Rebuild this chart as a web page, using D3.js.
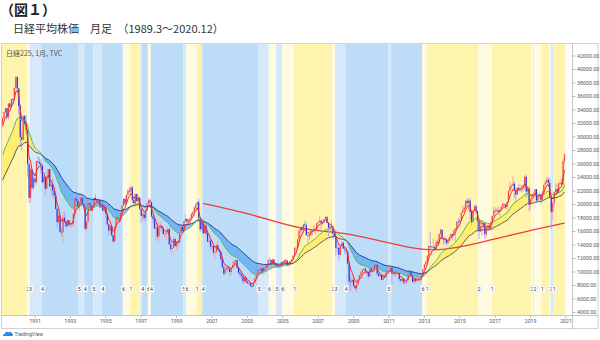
<!DOCTYPE html>
<html><head><meta charset="utf-8">
<script src="https://cdn.jsdelivr.net/npm/d3@7"></script>
<style>body{margin:0;background:#fff;}svg{display:block;}</style>
</head><body>
<svg id="c" width="600" height="340"></svg>
<script>
// ---- data (monthly, Mar 1989 .. Dec 2020) ----
const startYear = 1989, startMonth = 3;
const firstOpen = 31986;
const closes = [
/*1989*/ 32839,33714,34267,32949,34954,34431,35637,35549,37269,38916,
/*1990*/ 37189,34592,29980,29585,33131,31940,31036,25978,20984,25194,22454,23849,
/*1991*/ 23293,26409,26292,26111,25790,23291,24121,22336,23916,25222,22688,22984,
/*1992*/ 22023,21339,19346,17391,18348,15952,15910,18061,17399,16767,17684,16925,
/*1993*/ 17024,17098,18591,20919,20552,19590,20380,21027,20106,19703,16408,17417,
/*1994*/ 20229,19997,19112,19725,20974,20644,20449,20629,19564,19990,19076,19723,
/*1995*/ 18650,17053,16140,16807,15437,14517,16678,18117,17913,17655,18744,19868,
/*1996*/ 20813,20125,21407,22041,21956,22531,20693,20167,21556,20467,21020,19361,
/*1997*/ 18330,18557,18003,19151,20069,20605,20331,18229,17888,16459,16636,15259,
/*1998*/ 16628,16831,16527,15641,15671,15831,16379,14108,13406,13565,14884,13842,
/*1999*/ 14499,14368,15837,16702,16112,17530,17862,17437,17605,17942,18558,18934,
/*2000*/ 19540,19960,20337,17974,16332,17411,15727,16861,15747,14539,14649,13786,
/*2001*/ 13843,12884,12999,13934,13262,12969,11861,10713,9775,10367,10697,10543,
/*2002*/ 9998,10588,11025,11493,11764,10622,9877,9619,9383,8640,9216,8579,
/*2003*/ 8340,8363,7973,7831,8425,9083,9563,10344,10219,10560,10101,10677,
/*2004*/ 10784,11042,11715,11762,11236,11859,11326,11082,10824,10771,10899,11489,
/*2005*/ 11388,11741,11669,11009,11277,11584,11900,12414,13574,13607,14872,16111,
/*2006*/ 16650,16206,17060,16906,15467,15505,15457,16141,16128,16399,16274,17226,
/*2007*/ 17383,17604,17288,17400,17876,18138,17249,16569,16786,16738,15681,15308,
/*2008*/ 13592,13604,12526,13850,14339,13481,13377,13073,11260,8577,8512,8860,
/*2009*/ 7994,7568,8110,8828,9523,9958,10357,10493,10133,10035,9345,10546,
/*2010*/ 10198,10126,11090,11057,9769,9383,9537,8824,9369,9202,9937,10229,
/*2011*/ 10237,10624,9755,9850,9694,9816,9833,8955,8700,8988,8435,8455,
/*2012*/ 8803,9723,10083,9521,8543,9007,8695,8840,8870,8928,9446,10395,
/*2013*/ 11139,11559,12398,13861,13775,13677,13668,13389,14456,14328,15662,16291,
/*2014*/ 14915,14841,14828,14304,14632,15162,15621,15425,16174,16414,17460,17451,
/*2015*/ 17674,18798,19207,19520,20563,20236,20585,18890,17388,19083,19747,19034,
/*2016*/ 17518,16027,16759,16666,17235,15576,16569,16887,16450,17425,18308,19114,
/*2017*/ 19041,19119,18909,19197,19651,20033,19925,19646,20356,22012,22725,22765,
/*2018*/ 23098,22068,21454,22468,22202,22305,22554,22865,24120,21920,22351,20015,
/*2019*/ 20773,21385,21206,22259,20601,21276,21522,20704,21756,22927,23294,23657,
/*2020*/ 23205,21143,18917,20194,21878,22288,21710,23140,23185,22977,26434,27444
];
const highs = [
/*1989*/ 32900,33800,34300,34300,35000,35100,35650,35700,37300,38957,
/*1990*/ 38713,37300,34900,30800,33200,33200,33300,30900,26500,25500,25200,24600,
/*1991*/ 24100,26500,27146,27000,26700,25800,24200,24100,24300,25300,25300,23300,
/*1992*/ 23800,22100,21300,19500,18800,18400,16400,18900,18800,17700,17800,17700,
/*1993*/ 17500,17500,18800,20950,21100,20800,20600,21281,21100,20500,19800,17600,
/*1994*/ 20400,20600,20400,19900,21000,21573,20900,20800,20700,20100,20000,19800,
/*1995*/ 19800,18700,17100,17000,16900,15500,16700,18200,18200,18100,18800,19900,
/*1996*/ 20900,21100,21500,22300,22600,22750,22700,21200,21600,21600,21400,21100,
/*1997*/ 19500,18800,18900,19400,20400,20900,20900,20400,18700,18300,17400,17300,
/*1998*/ 17300,17300,17000,16600,15900,16000,16800,16400,14400,14100,15100,15100,
/*1999*/ 14600,14500,16400,16800,16900,17600,18600,17900,17900,18000,18800,18950,
/*2000*/ 19700,20200,20500,20834,18000,17600,17900,16900,16800,15800,14900,14900,
/*2001*/ 14200,13900,13100,14200,14529,13500,13000,12000,11000,10800,11100,10900,
/*2002*/ 10900,10600,11700,11600,12000,11800,10700,10300,9700,9400,9300,9300,
/*2003*/ 8800,8800,8600,8100,8500,9200,9800,10400,11000,11161,10500,10700,
/*2004*/ 11000,11100,11800,12195,11900,12000,11900,11200,11300,11100,11200,11500,
/*2005*/ 11600,11800,12000,11800,11300,11600,11900,12500,13600,13800,14900,16400,
/*2006*/ 16700,16800,17100,17563,17300,15600,15600,16200,16400,16900,16600,17300,
/*2007*/ 17600,18300,17700,17700,17900,18297,18300,17400,16900,17500,16600,16000,
/*2008*/ 15200,14000,13600,13900,14600,14500,13700,13300,12800,11400,9500,8900,
/*2009*/ 9400,8000,8900,9200,9600,10200,10400,10700,10600,10300,10000,10600,
/*2010*/ 10982,10300,11100,11408,11100,10300,9700,9600,9700,9600,10100,10300,
/*2011*/ 10600,10900,10700,9900,10000,9900,10100,9900,9000,9100,9000,8700,
/*2012*/ 8900,9800,10300,10000,9500,9100,9100,9200,9200,9100,9500,10500,
/*2013*/ 11200,11600,12600,13900,15943,13700,14900,14000,14800,14800,15700,16320,
/*2014*/ 16100,14900,15300,15000,14700,15400,15700,15600,16400,16500,17500,18030,
/*2015*/ 17900,18800,19800,20000,20600,20953,20800,20900,18800,19100,20000,20000,
/*2016*/ 18900,17900,17300,17600,17300,16900,16900,17000,17100,17500,18300,19593,
/*2017*/ 19600,19500,19700,19300,19800,20300,20200,20100,20500,22100,23382,23000,
/*2018*/ 24129,23500,22500,22500,23000,22900,22900,23000,24300,24448,22700,22700,
/*2019*/ 20900,21600,21800,22300,22300,21500,21800,21500,22100,22900,23600,24066,
/*2020*/ 24115,23900,21400,20400,21900,23200,23000,23300,23600,23800,26800,27600
];
const lows = [
/*1989*/ 31500,32600,33500,32600,32500,34000,34300,34900,35300,37000,
/*1990*/ 36700,33300,28500,28000,29600,31600,30200,24100,20221,20300,22200,22200,
/*1991*/ 22800,23100,25300,25800,24600,23200,22900,21500,22300,23500,22500,21300,
/*1992*/ 21000,20700,19100,16600,17100,15750,15200,14309,17200,16400,16700,16800,
/*1993*/ 16500,16600,16900,18500,20000,19500,19100,20300,20000,19300,16078,16200,
/*1994*/ 17400,19700,19000,19000,19700,20400,20200,20300,19500,19400,19000,18900,
/*1995*/ 17800,16800,15380,15700,15300,14295,14700,16500,17300,17300,17400,18700,
/*1996*/ 19700,19900,19900,21000,21600,21600,20200,20000,20000,20400,20300,19100,
/*1997*/ 17300,17700,17600,17400,19100,19900,19500,18100,17300,16300,14800,14800,
/*1998*/ 14500,16100,16000,15500,15000,14800,15700,14000,13100,12787,13600,13800,
/*1999*/ 13300,13700,14200,15800,15900,16000,17300,17000,16800,17100,17900,18200,
/*2000*/ 18200,19100,19100,17400,15900,16200,15600,15700,15400,14300,14200,13400,
/*2001*/ 13200,12600,11819,12800,13100,12500,11600,10600,9382,9700,10100,10000,
/*2002*/ 9400,9420,10500,10900,11200,10500,9700,9100,9000,8200,8300,8300,
/*2003*/ 8300,8200,7800,7603,7900,8400,9200,9500,10100,10400,9600,9800,
/*2004*/ 10400,10400,10900,11600,10500,11000,10800,10700,10800,10600,10700,10800,
/*2005*/ 11200,11300,11500,10800,10800,11100,11500,11800,12400,13000,13600,14900,
/*2006*/ 15100,15700,15800,16600,15300,14045,14700,15300,15400,16000,15600,16200,
/*2007*/ 16800,17300,16300,17000,17200,17700,17200,15273,15800,16300,14800,15100,
/*2008*/ 12500,12900,11700,12500,13700,13400,12600,12600,11000,6995,7200,7800,
/*2009*/ 7800,7300,7021,8000,8500,9400,9000,10200,9900,9700,9000,9500,
/*2010*/ 10100,9800,10100,10900,9500,9300,9100,8800,8900,9100,9200,9900,
/*2011*/ 10100,10200,8227,9400,9400,9300,9700,8600,8400,8500,8100,8200,
/*2012*/ 8300,8800,9600,9400,8500,8200,8400,8500,8600,8500,8600,9400,
/*2013*/ 10400,10900,11500,12000,13500,12400,13700,13200,13500,13800,14000,15300,
/*2014*/ 14800,14000,14200,13900,13900,14600,15100,14700,15500,14529,16400,16700,
/*2015*/ 16600,17600,18700,19000,19300,19900,19100,17700,16901,17600,19100,18700,
/*2016*/ 16000,14865,15900,15400,16200,14864,15200,16000,16100,16300,16100,18100,
/*2017*/ 18600,18800,18900,18200,19200,19700,19800,19300,19200,20400,21900,22200,
/*2018*/ 22800,20950,20347,21500,22000,21900,21800,21900,22200,20971,21300,18949,
/*2019*/ 19241,20300,20900,21500,20300,20300,21000,20100,20600,21300,22900,23000,
/*2020*/ 22800,21000,16358,17600,19600,21500,21700,21700,22900,22900,22900,26000
];
// moving-average settings and starting values
const shortPeriod = 5, midPeriod = 20, longPeriod = 40;
const shortSeed = 31600, midSeed = 27300, longSeed = 23600;
// long red line (decimal year, value)
const longLineYears  = [2000.5,2001,2002,2003,2004,2005,2006,2007,2008,2009,2010,2011,2012,2013,2014,2015,2016,2017,2018,2019,2020,2020.92];
const longLineValues = [20150,19900,19300,18650,17900,17150,16500,16100,15900,15500,14900,14300,13700,13300,13300,13700,14250,14900,15550,16150,16750,17250];
// stage bands
const stageDates  = ["1989-03","1990-08","1990-10","1991-06","1993-07","1993-11","1994-05","1994-11","1996-01","1996-06","1997-01","1997-02","1997-06","1997-08","1999-06","1999-08","2000-03","2000-06","2000-07","2003-09","2004-04","2004-09","2005-01","2005-09","2007-11","2008-01","2008-08","2011-01","2011-03","2012-12","2013-03","2016-02","2016-11","2019-02","2019-03","2019-04","2019-09","2020-02","2020-03","2020-05"];
const stageValues = [1,2,3,4,5,4,5,4,6,1,3,4,6,4,5,6,1,3,4,5,6,5,6,1,2,3,4,5,4,6,1,2,1,2,1,2,1,2,3,1];
const stageLabels = ["","2","3","4","5","4","5","4","6","1","3","4","6","4","5","6","1","3","4","5","6","5","6","1","2","3","4","5","","6","1","2","1","2","","2","1","2","3","1"];
const priceTicks = [4000,6000,8000,10000,12000,14000,16000,18000,20000,22000,24000,26000,28000,30000,32000,34000,36000,38000,40000,42000];
const yearTicks = [1991,1993,1995,1997,1999,2001,2003,2005,2007,2009,2011,2013,2015,2017,2019,2021];

// ---- drawing ----
const svg = d3.select("#c");
const L = 2, T = 44, R = 572, B = 315;
const x = d3.scaleLinear().domain([1991, 2021]).range([35, 566]);
const y = d3.scaleLinear().domain([4000, 42000]).range([312.5, 56]);
const n = closes.length;
const tOf = i => startYear + (startMonth - 1 + i) / 12;
const half = (x(1992) - x(1991)) / 24;
const stageColor = {1:"#fff4ad",2:"#fffbe0",3:"#d5e9fb",4:"#bddcf8",5:"#d5e9fb",6:"#fffbe0"};
const parseT = s => { const [a,b] = s.split("-").map(Number); return a + (b-1)/12; };

svg.append("defs").append("clipPath").attr("id","pc")
  .append("rect").attr("x",L).attr("y",T).attr("width",R-L).attr("height",B-T);

// titles
svg.append("text").attr("x",0).attr("y",14.5).attr("font-family","Noto Sans CJK JP")
  .attr("font-weight","bold").attr("font-size",14).attr("fill","#222").text("（図１）");
svg.append("text").attr("x",13).attr("y",32.5).attr("font-family","Noto Sans CJK JP")
  .attr("font-size",11).attr("fill","#333").text("日経平均株価　月足　（1989.3～2020.12）");

const g = svg.append("g").attr("clip-path","url(#pc)");

// bands
const lastT = tOf(n-1);
stageDates.forEach((d,i) => {
  const t0 = parseT(d), t1 = i < stageDates.length-1 ? parseT(stageDates[i+1]) : lastT + 1/12;
  g.append("rect").attr("x", x(t0)-half).attr("y",T).attr("width", x(t1)-x(t0)).attr("height",B-T)
   .attr("fill", stageColor[stageValues[i]]);
});

// EMAs
function ema(vals, p, seed){ const a = 2/(p+1); const o=[seed]; for(let i=1;i<vals.length;i++) o.push(a*vals[i]+(1-a)*o[i-1]); return o; }
const eS = ema(closes, shortPeriod, shortSeed), eM = ema(closes, midPeriod, midSeed), eL = ema(closes, longPeriod, longSeed);
const idx = d3.range(n);

// cloud
g.append("path").attr("fill","rgba(255,233,60,0.55)")
  .attr("d", d3.area().x(i=>x(tOf(i))).y0(i=>y(eL[i])).y1(i=>y(Math.max(eM[i],eL[i])))(idx));
g.append("path").attr("fill","rgba(40,145,235,0.5)")
  .attr("d", d3.area().x(i=>x(tOf(i))).y0(i=>y(eM[i])).y1(i=>y(Math.max(eM[i],eL[i])))(idx));

// long red line
g.append("path").attr("fill","none").attr("stroke","#ee3b3b").attr("stroke-width",1.3)
  .attr("d", d3.line().x(i=>x(longLineYears[i])).y(i=>y(longLineValues[i])).curve(d3.curveBasis)(d3.range(longLineYears.length)));

// candles
idx.forEach(i => {
  const o = i === 0 ? firstOpen : closes[i-1], c = closes[i];
  const up = c >= o, cx = x(tOf(i));
  g.append("line").attr("x1",cx).attr("x2",cx).attr("y1",y(highs[i])).attr("y2",y(lows[i]))
    .attr("stroke", up ? "#f2a0a6" : "#a8a4ee").attr("stroke-width",0.9);
  const yt = y(Math.max(o,c)), yb = y(Math.min(o,c));
  g.append("rect").attr("x",cx-0.6).attr("width",1.2).attr("y",yt).attr("height",Math.max(0.8,yb-yt))
    .attr("fill", up ? "#f04848" : "#2e30e0");
});

// mid EMA
g.append("path").attr("fill","none").attr("stroke","#5cb85c").attr("stroke-width",1)
  .attr("d", d3.line().x(i=>x(tOf(i))).y(i=>y(eM[i]))(idx));
// long EMA coloured by state
let runStart = 0;
for (let i=1;i<=n;i++){
  const st = eM[runStart] >= eL[runStart];
  if (i===n || (eM[i] >= eL[i]) !== st){
    const seg = d3.range(runStart, Math.min(i+1, n));
    g.append("path").attr("fill","none").attr("stroke", st ? "#555a60" : "#23409a").attr("stroke-width",1)
      .attr("d", d3.line().x(j=>x(tOf(j))).y(j=>y(eL[j]))(seg));
    runStart = i;
  }
}
// short EMA
g.append("path").attr("fill","none").attr("stroke","#f22a2a").attr("stroke-width",1)
  .attr("d", d3.line().x(i=>x(tOf(i))).y(i=>y(eS[i]))(idx));

// stage labels
stageDates.forEach((d,i) => {
  if (!stageLabels[i]) return;
  const cx = x(parseT(d));
  g.append("rect").attr("x",cx-2.6).attr("y",285.5).attr("width",5.2).attr("height",7).attr("rx",1)
    .attr("fill","#fff").attr("stroke","#d0d0d0").attr("stroke-width",0.3);
  g.append("text").attr("x",cx).attr("y",290.8).attr("text-anchor","middle").attr("font-family","Roboto")
    .attr("font-size",5.2).attr("fill","#333").text(stageLabels[i]);
});

// chart header label
svg.append("text").attr("x",6).attr("y",56).attr("font-family","Noto Sans CJK JP").attr("font-size",7)
  .attr("fill","#555").text("日経225, 1月, TVC");

// frame and axes
svg.append("rect").attr("x",1.5).attr("y",T-0.5).attr("width",596.5).attr("height",285).attr("fill","none")
  .attr("stroke","#c8c8c8").attr("stroke-width",0.8);
svg.append("line").attr("x1",1.5).attr("x2",598).attr("y1",B+0.5).attr("y2",B+0.5).attr("stroke","#b8b8b8").attr("stroke-width",0.8);
svg.append("line").attr("x1",R+0.5).attr("x2",R+0.5).attr("y1",T-0.5).attr("y2",328.5).attr("stroke","#b8b8b8").attr("stroke-width",0.8);

priceTicks.forEach(v => {
  svg.append("line").attr("x1",R+1).attr("x2",R+3.5).attr("y1",y(v)).attr("y2",y(v)).attr("stroke","#888").attr("stroke-width",0.6);
  svg.append("text").attr("x",577).attr("y",y(v)+1.9).attr("font-family","Roboto").attr("font-size",5.3)
    .attr("fill","#555").text(v.toFixed(2));
});
yearTicks.forEach(t => {
  svg.append("line").attr("x1",x(t)).attr("x2",x(t)).attr("y1",B+1).attr("y2",B+3).attr("stroke","#888").attr("stroke-width",0.6);
  svg.append("text").attr("x",x(t)).attr("y",322.7).attr("text-anchor","middle").attr("font-family","Roboto")
    .attr("font-size",5.2).attr("fill","#555").text(t);
});

// TradingView mark
const lg = svg.append("g").attr("transform","translate(3,331)");
lg.append("path").attr("d","M0,5 L9,5 C10.5,5 10.5,2.5 9,2.5 C8.6,0.6 6.4,0.4 5.6,1.6 C4.6,0 2,0.6 2.2,2.6 C0.4,2.6 -0.4,5 0,5 Z").attr("fill","#2f8bdc");
lg.append("text").attr("x",11.5).attr("y",5).attr("font-family","Roboto").attr("font-size",5.2)
  .attr("fill","#555").text("TradingView");
</script>
</body></html>
